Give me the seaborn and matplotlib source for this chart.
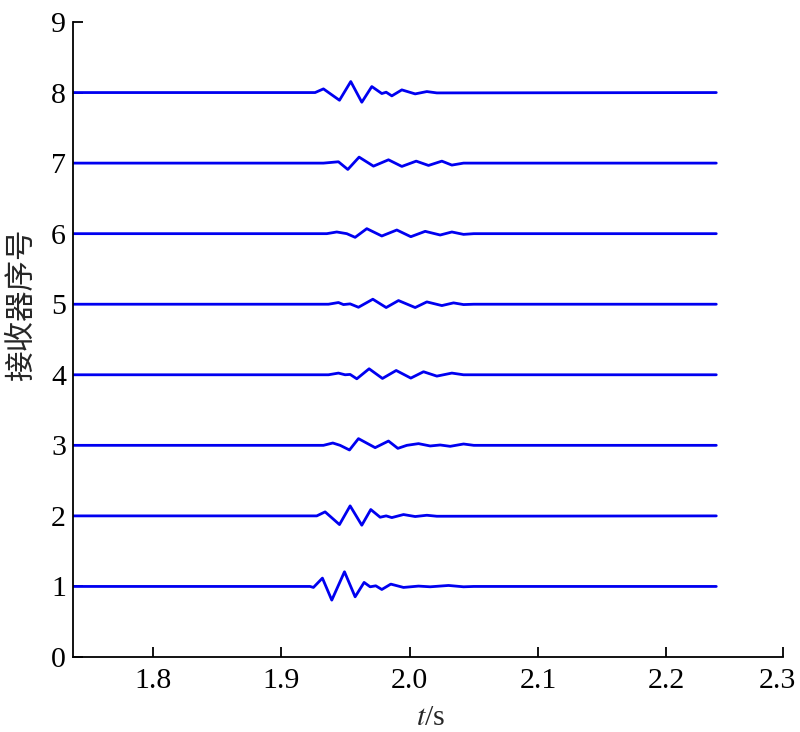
import numpy as np
import pandas as pd
import matplotlib
matplotlib.use("Agg")
import matplotlib.pyplot as plt
import matplotlib.transforms as mtransforms
import seaborn as sns

# ---- data (time in s, amplitude offset from trace baseline) ----
t_start = 1.7376
t_end = 2.239

r1_t = [t_start, 1.9224, 1.9250, 1.9320, 1.9393, 1.9492, 1.9575, 1.9645, 1.9692, 1.9736, 1.9783, 1.9853,
        1.9952, 2.0069, 2.0160, 2.0303, 2.0420, 2.0500, t_end]
r1_a = [0, 0, -0.014, 0.118, -0.194, 0.208, -0.147, 0.057, -0.005, 0.009, -0.043, 0.033,
        -0.014, 0.005, -0.005, 0.014, -0.005, 0, 0]

r2_t = [t_start, 1.9276, 1.9341, 1.9453, 1.9536, 1.9627, 1.9697, 1.9770, 1.9817, 1.9861, 1.9952,
        2.0043, 2.0134, 2.0212, t_end]
r2_a = [0, 0, 0.057, -0.123, 0.142, -0.132, 0.090, -0.019, 0.0, -0.024, 0.019,
        -0.009, 0.009, -0.005, 0]

r3_t = [t_start, 1.9328, 1.9401, 1.9458, 1.9531, 1.9601, 1.9731, 1.9835, 1.9908, 1.9978, 2.0069,
        2.0160, 2.0238, 2.0316, 2.0420, 2.0500, t_end]
r3_a = [0, 0, 0.033, 0.0, -0.066, 0.095, -0.033, 0.061, -0.043, 0.0, 0.024,
        -0.009, 0.005, -0.014, 0.019, 0, 0]

r4_t = [t_start, 1.9367, 1.9445, 1.9497, 1.9536, 1.9588, 1.9684, 1.9788, 1.9895, 2.0009, 2.0108,
        2.0212, 2.0329, 2.0420, t_end]
r4_a = [0, 0, 0.024, 0.0, 0.005, -0.057, 0.085, -0.052, 0.061, -0.047, 0.043,
        -0.019, 0.024, 0, 0]

r5_t = [t_start, 1.9367, 1.9445, 1.9484, 1.9536, 1.9601, 1.9713, 1.9817, 1.9913, 2.0043, 2.0134,
        2.0251, 2.0342, 2.0420, 2.0500, t_end]
r5_a = [0, 0, 0.024, -0.005, 0.005, -0.043, 0.071, -0.047, 0.052, -0.047, 0.033,
        -0.019, 0.019, -0.005, 0, 0]

r6_t = [t_start, 1.9354, 1.9432, 1.9510, 1.9575, 1.9666, 1.9783, 1.9900, 2.0009, 2.0121, 2.0238,
        2.0329, 2.0420, 2.0500, t_end]
r6_a = [0, 0, 0.024, 0.0, -0.052, 0.071, -0.033, 0.052, -0.043, 0.033, -0.019,
        0.024, -0.010, 0, 0]

r7_t = [t_start, 1.9328, 1.9445, 1.9518, 1.9606, 1.9718, 1.9835, 1.9939, 2.0051, 2.0147, 2.0251,
        2.0329, 2.0420, t_end]
r7_a = [0, 0, 0.019, -0.090, 0.085, -0.043, 0.047, -0.047, 0.028, -0.033, 0.028,
        -0.028, 0, 0]

r8_t = [t_start, 1.9263, 1.9328, 1.9453, 1.9541, 1.9627, 1.9705, 1.9783, 1.9817, 1.9861, 1.9939,
        2.0043, 2.0134, 2.0212, t_end]
r8_a = [0, 0, 0.052, -0.109, 0.156, -0.137, 0.085, -0.014, 0.005, -0.047, 0.038,
        -0.019, 0.014, -0.005, 0]

receivers = [1, 2, 3, 4, 5, 6, 7, 8]
traces_t = [r1_t, r2_t, r3_t, r4_t, r5_t, r6_t, r7_t, r8_t]
traces_a = [r1_a, r2_a, r3_a, r4_a, r5_a, r6_a, r7_a, r8_a]

x_ticks = [1.8, 1.9, 2.0, 2.1, 2.2]
x_tick_labels = ["1.8", "1.9", "2.0", "2.1", "2.2", "2.3"]
x_max = 2.291
y_ticks = list(range(0, 10))

rows = []
for rec, tt, aa in zip(receivers, traces_t, traces_a):
    for i, (t, a) in enumerate(zip(tt, aa)):
        rows.append({"receiver": rec, "order": i, "t": t, "y": rec + a})
df = pd.DataFrame(rows)

# ---- plot ----
sns.set_theme(style="ticks")
plt.rcParams["font.family"] = ["Liberation Serif", "DejaVu Serif"]
plt.rcParams["mathtext.fontset"] = "stix"

fig = plt.figure(figsize=(8.0, 7.32), dpi=100)
ax = fig.add_axes([73 / 800, 1 - 657 / 732, (783 - 73) / 800, (657 - 22) / 732])

sns.lineplot(data=df, x="t", y="y", units="receiver", estimator=None, sort=False,
             color="#0000f0", linewidth=2.0, ax=ax, legend=False,
             solid_joinstyle="round", solid_capstyle="round")

ax.set_xlim(t_start, x_max)
ax.set_ylim(0, 9)
ax.set_xticks(x_ticks + [x_max])
ax.set_xticklabels(x_tick_labels)
ax.set_yticks(y_ticks)
ax.set_yticklabels([str(v) for v in y_ticks])

for s in ["top", "right"]:
    ax.spines[s].set_visible(False)
for s in ["left", "bottom"]:
    ax.spines[s].set_color("black")
    ax.spines[s].set_linewidth(1.3)

ax.tick_params(axis="both", direction="in", length=7, width=1.3, colors="black",
               labelsize=21.5, pad=5)
ax.tick_params(axis="x", pad=8)

# last x tick label sits slightly left of its tick, as in the reference
last = ax.get_xticklabels()[-1]
last.set_transform(last.get_transform() + mtransforms.ScaledTranslation(-6 / 100, 0, fig.dpi_scale_trans))

ax.set_xlabel("$t$/s", fontsize=21.5, labelpad=0)
ax.xaxis.set_label_coords(0.503, -0.075)
ax.set_ylabel("接收器序号", fontsize=22, family=["Noto Sans CJK SC", "DejaVu Sans"])
ax.yaxis.set_label_coords(-0.050, 0.554)
ax.grid(False)

fig.savefig("out.png", dpi=100)
